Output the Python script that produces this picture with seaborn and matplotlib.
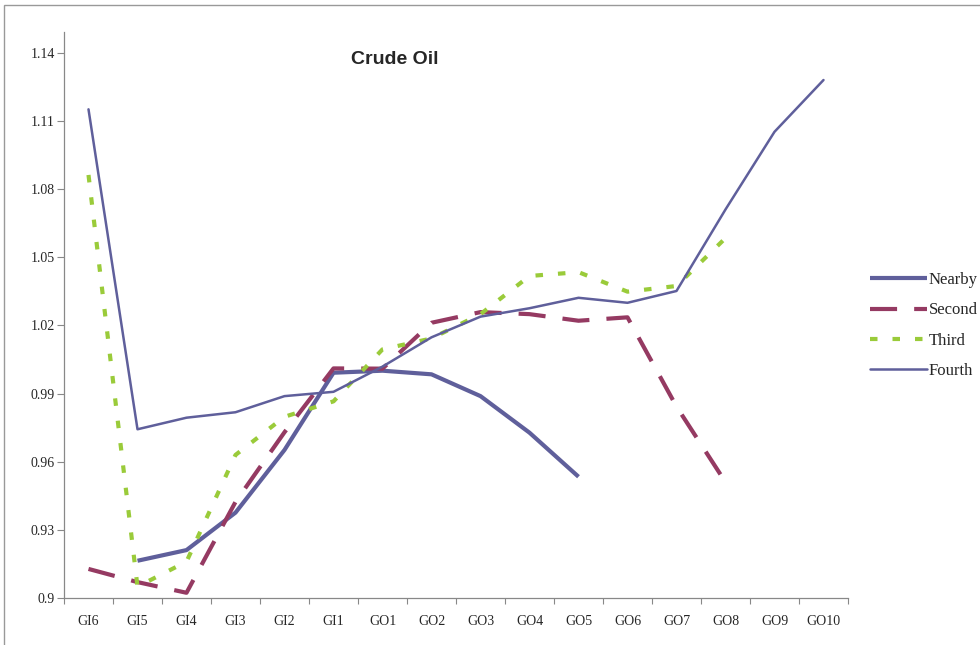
import numpy as np
import pandas as pd
import matplotlib
matplotlib.use('Agg')
import matplotlib.pyplot as plt
import matplotlib.patches as patches
from matplotlib.ticker import FixedLocator
import seaborn as sns

# contract months
contracts = ['GI6', 'GI5', 'GI4', 'GI3', 'GI2', 'GI1', 'GO1', 'GO2',
             'GO3', 'GO4', 'GO5', 'GO6', 'GO7', 'GO8', 'GO9', 'GO10']
nan = np.nan
nearby = [nan, 0.9164, 0.9211, 0.9376, 0.9652, 0.9992, 1.0001, 0.9985,
          0.9889, 0.9728, 0.9534, nan, nan, nan, nan, nan]
second = [0.9128, 0.9070, 0.9023, 0.9423, 0.9730, 1.0011, 1.0010, 1.0212,
          1.0259, 1.0250, 1.0221, 1.0236, 0.9843, 0.9510, nan, nan]
third = [1.0863, 0.9050, 0.9160, 0.9630, 0.9798, 0.9866, 1.0095, 1.0143,
         1.0250, 1.0418, 1.0435, 1.0349, 1.0374, 1.0585, nan, nan]
fourth = [1.1152, 0.9743, 0.9794, 0.9818, 0.9889, 0.9908, 1.0019, 1.0148,
          1.0239, 1.0276, 1.0322, 1.0300, 1.0352, 1.0711, 1.1053, 1.1281]
yticks = [0.9, 0.93, 0.96, 0.99, 1.02, 1.05, 1.08, 1.11, 1.14]
ylabels = ['0.9', '0.93', '0.96', '0.99', '1.02', '1.05', '1.08', '1.11', '1.14']

df = pd.DataFrame({'pos': np.arange(len(contracts)), 'contract': contracts,
                   'Nearby': nearby, 'Second': second, 'Third': third, 'Fourth': fourth})

sns.set_style('white')
plt.rcParams['font.family'] = ['Liberation Serif', 'DejaVu Serif']

fig = plt.figure(figsize=(9.8, 6.45), dpi=100)
ax = fig.add_axes([64/980, 1 - 598/645, (848 - 64)/980, (598 - 32)/645])

purple = '#5f5f9b'
sns.lineplot(data=df, x='pos', y='Nearby', ax=ax, color=purple, lw=3.0,
             label='Nearby', solid_capstyle='butt')
sns.lineplot(data=df, x='pos', y='Second', ax=ax, color='#953a62', lw=3.0,
             linestyle=(0, (6.5, 4.1)), label='Second', dash_capstyle='butt')
sns.lineplot(data=df, x='pos', y='Third', ax=ax, color='#9acb3a', lw=3.0,
             linestyle=(0, (1.8, 3.6)), label='Third', dash_capstyle='butt')
sns.lineplot(data=df, x='pos', y='Fourth', ax=ax, color=purple, lw=1.8,
             label='Fourth')

ax.set_xlim(-0.5, len(contracts) - 0.5)
ax.set_ylim(0.9, 1.14 + 21/2271)
ax.set_xticks(df['pos'])
ax.set_xticklabels(contracts, fontsize=10)
ax.xaxis.set_minor_locator(FixedLocator(np.arange(-0.5, len(contracts), 1.0)))
ax.tick_params(axis='x', which='major', length=0, pad=12)
ax.tick_params(axis='x', which='minor', length=4, direction='out', color='#888888', width=0.8, bottom=True)
ax.set_yticks(yticks)
ax.set_yticklabels(ylabels, fontsize=10)
ax.tick_params(axis='y', length=5, direction='out', color='#888888', width=0.8, pad=1.5, left=True)
ax.set_xlabel('')
ax.set_ylabel('')

for s in ['top', 'right']:
    ax.spines[s].set_visible(False)
for s in ['left', 'bottom']:
    ax.spines[s].set_color('#888888')
    ax.spines[s].set_linewidth(0.9)

leg = ax.legend(loc='upper left', bbox_to_anchor=(870/980, 1 - 272/645),
                bbox_transform=fig.transFigure, frameon=False, fontsize=12,
                handlelength=3.4, handletextpad=0.12, labelspacing=0.86,
                borderpad=0, borderaxespad=0)

fig.text(395/980, 1 - 60/645, 'Crude Oil', ha='center', va='center',
         fontsize=14, fontweight='bold', family=['Liberation Sans', 'DejaVu Sans'])

fig.patches.append(patches.Rectangle((4/980, -0.1), 2, 1.1 - 5/645,
                                     transform=fig.transFigure, fill=False,
                                     edgecolor='#999999', lw=1.0))

fig.savefig('out.png', dpi=100)
